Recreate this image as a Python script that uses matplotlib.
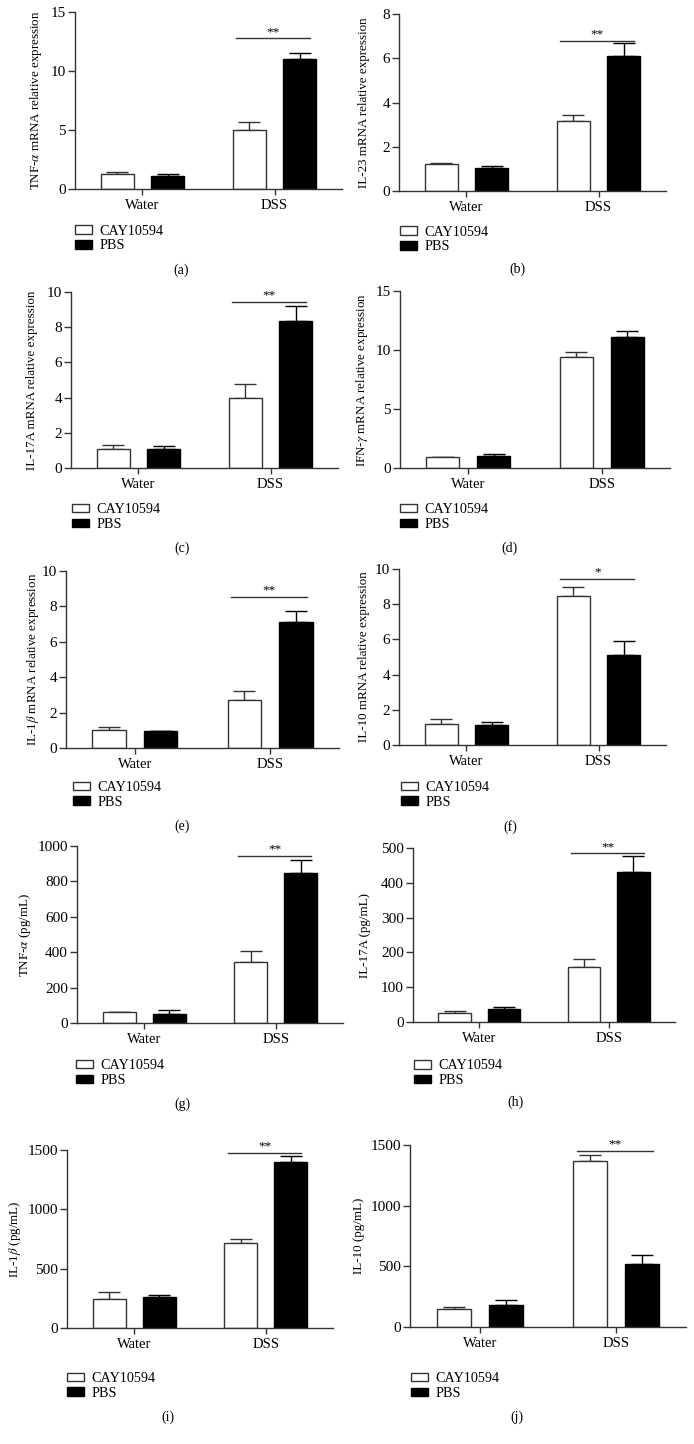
import matplotlib.pyplot as plt
from matplotlib.patches import Patch

plt.rcParams['font.family'] = ['Liberation Serif', 'DejaVu Serif']
plt.rcParams['mathtext.fontset'] = 'stix'

# data, each inner list is [Water, DSS]
groups = ['Water', 'DSS']
treatments = ['CAY10594', 'PBS']
panel_tags = ['(a)', '(b)', '(c)', '(d)', '(e)', '(f)', '(g)', '(h)', '(i)', '(j)']
ylabels = ['TNF-$\\alpha$ mRNA relative expression',
           'IL-23 mRNA relative expression',
           'IL-17A mRNA relative expression',
           'IFN-$\\gamma$ mRNA relative expression',
           'IL-1$\\beta$ mRNA relative expression',
           'IL-10 mRNA relative expression',
           'TNF-$\\alpha$ (pg/mL)',
           'IL-17A (pg/mL)',
           'IL-1$\\beta$ (pg/mL)',
           'IL-10 (pg/mL)']
cay_mean = [[1.24, 4.97], [1.20, 3.18], [1.07, 4.00], [0.93, 9.44], [1.00, 2.74],
            [1.18, 8.44], [60, 342], [27, 159], [241, 713], [146, 1365]]
cay_err = [[0.17, 0.71], [0.06, 0.27], [0.23, 0.80], [0.02, 0.36], [0.19, 0.49],
           [0.27, 0.53], [2, 64], [6, 22], [60, 34], [22, 55]]
pbs_mean = [[1.13, 11.05], [1.06, 6.11], [1.10, 8.38], [0.98, 11.12], [0.96, 7.13],
            [1.16, 5.10], [51, 849], [37.5, 431], [261, 1396], [184, 519]]
pbs_err = [[0.17, 0.45], [0.09, 0.56], [0.16, 0.82], [0.17, 0.51], [0.01, 0.62],
           [0.15, 0.82], [23, 70], [6, 47], [17, 50], [39, 77]]
y_max = [15, 8, 10, 15, 10, 10, 1000, 500, 1500, 1500]
y_step = [5, 2, 2, 5, 2, 2, 200, 100, 500, 500]
sig_marks = ['**', '**', '**', '', '**', '*', '**', '**', '**', '**']
sig_level = [12.8, 6.8, 9.45, None, 8.55, 9.45, 945, 485, 1478, 1453]

# layout in pixels: plot area left, right, top, bottom
W, H = 694, 1444
boxes = [(75, 342, 12, 189), (399, 666, 14, 191),
         (71, 338, 292, 468), (400, 670, 291, 468),
         (66, 339, 571, 748), (399, 666, 569, 745),
         (77, 343, 846, 1023), (413, 675, 848, 1022),
         (67, 333, 1150, 1328), (410, 686, 1145, 1327)]
ylabel_x = [36, 364, 32, 362, 33, 364, 25, 365, 15, 359]
legend_xy = [(75, 238.5), (400, 239.5), (72, 517), (400, 517), (73, 794.7),
             (401, 794.7), (76, 1073), (414, 1073.3), (67, 1385.8), (411, 1386)]
tag_xy = [(181, 270), (517, 269), (182, 548), (510, 548), (182, 826),
          (510, 827), (182, 1104), (515, 1102), (168, 1417), (517, 1417)]

line_c = '#333333'
fig = plt.figure(figsize=(W / 100, H / 100), dpi=100)

x = [0, 1]
off = 0.19
bw = 0.25
for i in range(10):
    l, r, t, b = boxes[i]
    ax = fig.add_axes([l / W, 1 - b / H, (r - l) / W, (b - t) / H])
    xc = [v - off for v in x]
    xp = [v + off for v in x]
    ax.bar(xc, cay_mean[i], bw, color='white', edgecolor=line_c, linewidth=1, zorder=2)
    ax.bar(xp, pbs_mean[i], bw, color='black', edgecolor='black', linewidth=1, zorder=2)
    ax.errorbar(xc, cay_mean[i], yerr=[[0, 0], cay_err[i]], fmt='none', ecolor=line_c,
                elinewidth=1, capsize=8, capthick=1, zorder=1)
    ax.errorbar(xp, pbs_mean[i], yerr=[[0, 0], pbs_err[i]], fmt='none', ecolor='black',
                elinewidth=1, capsize=8, capthick=1, zorder=1)

    ax.set_xlim(-0.51, 1.51)
    ax.set_ylim(0, y_max[i])
    ax.set_yticks(range(0, y_max[i] + 1, y_step[i]))
    ax.set_xticks(x)
    ax.set_xticklabels(groups)
    for s in ['top', 'right']:
        ax.spines[s].set_visible(False)
    for s in ['left', 'bottom']:
        ax.spines[s].set_color(line_c)
        ax.spines[s].set_linewidth(1)
    ax.tick_params(axis='y', length=5, width=1, pad=1.5, labelsize=11, color=line_c)
    ax.tick_params(axis='x', length=4, width=1, pad=3, labelsize=10.5, color=line_c)

    ax.set_ylabel(ylabels[i], fontsize=9.4, va='center')
    ax.yaxis.set_label_coords((ylabel_x[i] - l) / (r - l), 0.5)

    if sig_marks[i]:
        ax.plot([0.71, 1.27], [sig_level[i], sig_level[i]], color=line_c, lw=1, clip_on=False)
        ax.annotate(sig_marks[i], (0.99, sig_level[i]), xytext=(0, 0),
                    textcoords='offset points', ha='center', va='bottom', fontsize=9.5)

    handles = [Patch(facecolor='white', edgecolor=line_c, linewidth=1),
               Patch(facecolor='black', edgecolor='black', linewidth=1)]
    lx, ly = legend_xy[i]
    ax.legend(handles, treatments, loc='center left', bbox_to_anchor=(lx / W, 1 - ly / H),
              bbox_transform=fig.transFigure, frameon=False, fontsize=10.2,
              handlelength=1.2, handleheight=0.55, handletextpad=0.55,
              labelspacing=0.12, borderpad=0, borderaxespad=0)

    tx, ty = tag_xy[i]
    fig.text(tx / W, 1 - ty / H, panel_tags[i], ha='center', va='center', fontsize=10)

fig.savefig('out.png', dpi=100)
